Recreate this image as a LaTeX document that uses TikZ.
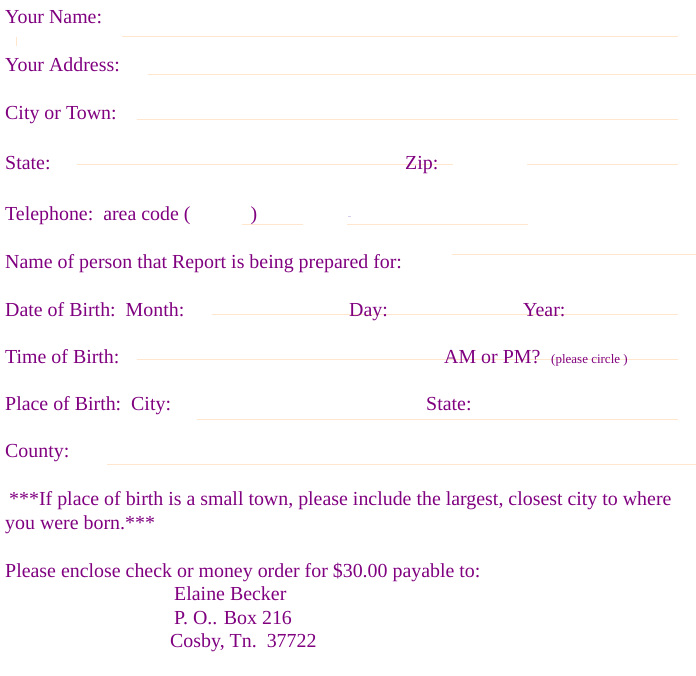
\documentclass[tikz,border=0pt]{standalone}
\usepackage{fontspec}
\setmainfont{Liberation Serif}
\definecolor{txt}{HTML}{800080}
\definecolor{rule}{HTML}{FFE6CC}
\definecolor{dash}{HTML}{D8CCF0}
\begin{document}
\begin{tikzpicture}[x=1pt,y=-1pt,
  lbl/.style={anchor=base west,inner sep=0pt,text=txt,font=\fontsize{19.9}{23}\selectfont},
  small/.style={anchor=base west,inner sep=0pt,text=txt,font=\fontsize{13}{15}\selectfont},
  rl/.style={draw=rule,line width=1pt}]
\useasboundingbox[fill=white] (0,0) rectangle (696,675);
% rules
\coordinate (n1) at (122,36); \coordinate (n2) at (678,36);
\coordinate (t1) at (16,37); \coordinate (t2) at (16,46);
\coordinate (a1) at (148,74); \coordinate (a2) at (696,74);
\coordinate (c1) at (137,119); \coordinate (c2) at (678,119);
\coordinate (s1) at (77,164); \coordinate (s2) at (453,164);
\coordinate (z1) at (527,164); \coordinate (z2) at (678,164);
\coordinate (p1) at (242,224); \coordinate (p2) at (303,224);
\coordinate (q1) at (347,224); \coordinate (q2) at (528,224);
\coordinate (d1) at (348,216); \coordinate (d2) at (351,216);
\coordinate (r1) at (452,254); \coordinate (r2) at (696,254);
\coordinate (b1) at (212,314); \coordinate (b2) at (678,314);
\coordinate (h1) at (137,359); \coordinate (h2) at (678,359);
\coordinate (l1) at (197,419); \coordinate (l2) at (678,419);
\coordinate (o1) at (107,464); \coordinate (o2) at (696,464);
\draw[rl] (n1) -- (n2);
\draw[rl] (t1) -- (t2);
\draw[rl] (a1) -- (a2);
\draw[rl] (c1) -- (c2);
\draw[rl] (s1) -- (s2);
\draw[rl] (z1) -- (z2);
\draw[rl] (p1) -- (p2);
\draw[rl] (q1) -- (q2);
\draw[draw=dash,line width=1pt] (d1) -- (d2);
\draw[rl] (r1) -- (r2);
\draw[rl] (b1) -- (b2);
\draw[rl] (h1) -- (h2);
\draw[rl] (l1) -- (l2);
\draw[rl] (o1) -- (o2);
% labels
\node[lbl] (name) at (5,23) {Your Name:};
\node[lbl] (addr) at (5,71) {Your Address:};
\node[lbl] (city) at (5,119) {City or Town:};
\node[lbl] (state) at (5,169) {State:};
\node[lbl] (zip) at (405,169) {Zip:};
\node[lbl] (tel) at (5,220) {Telephone:\ \ area code (\hspace{60pt})};
\node[lbl] (person) at (5,268) {Name of person that Report is being prepared for:};
\node[lbl] (dob) at (5,316) {Date of Birth:\ \ Month:};
\node[lbl] (day) at (349,316) {Day:};
\node[lbl] (year) at (523,316) {Year:};
\node[lbl] (tob) at (5,363) {Time of Birth:};
\node[lbl] (ampm) at (444,363) {AM or PM?};
\node[small] (circ) at (551,363) {(please circle )};
\node[lbl] (pob) at (5,410) {Place of Birth:\ \ City:};
\node[lbl] (pstate) at (426,410) {State:};
\node[lbl] (county) at (5,457) {County:};
\node[lbl] (note1) at (9,505) {***If place of birth is a small town, please include the largest, closest city to where};
\node[lbl] (note2) at (5,529) {you were born.***};
\node[lbl] (pay) at (5,577) {Please enclose check or money order for \$30.00 payable to:};
\node[lbl] (addr1) at (174,600) {Elaine Becker};
\node[lbl] (addr2) at (174,624) {P. O.. Box 216};
\node[lbl] (addr3) at (170,647) {Cosby, Tn.\ \ 37722};
\end{tikzpicture}
\end{document}
